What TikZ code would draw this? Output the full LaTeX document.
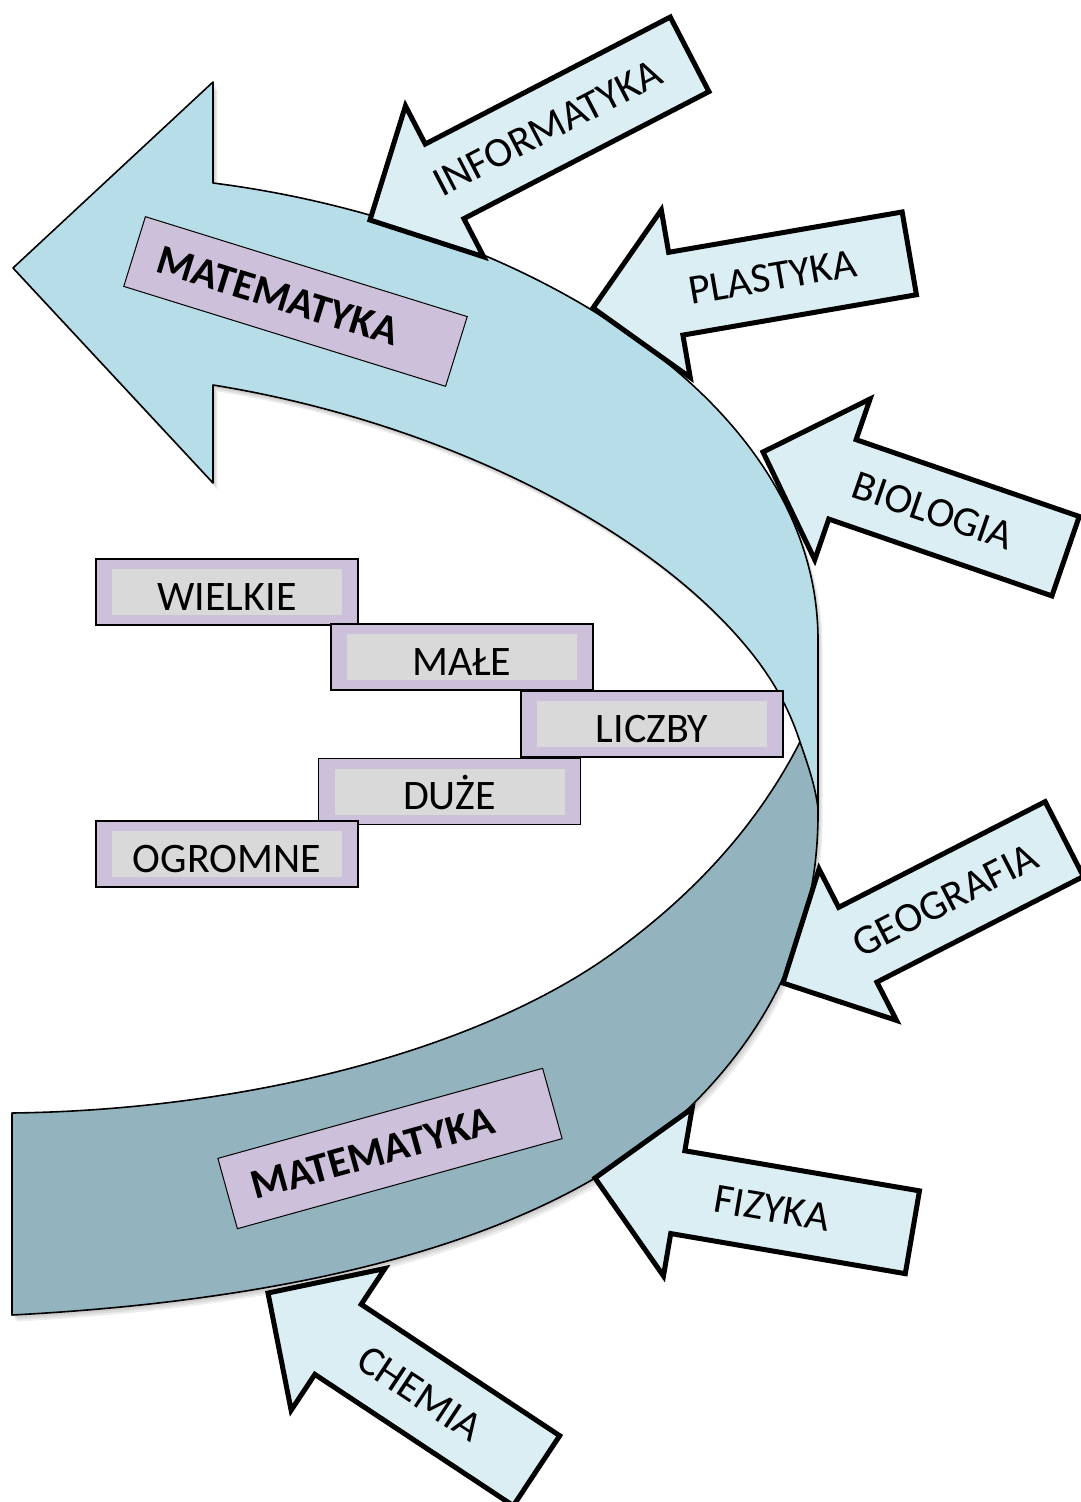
\documentclass[tikz,border=0pt]{standalone}
\usepackage{fontspec}
\setmainfont{Carlito}
\definecolor{lightfill}{HTML}{B7DDE8}
\definecolor{darkfill}{HTML}{93B3BE}
\definecolor{arrowfill}{HTML}{DAEEF3}
\definecolor{lblfill}{HTML}{CCC0DA}
\definecolor{grayfill}{HTML}{D9D9D9}
\newcommand\subjarrow[7]{%
  \begin{scope}[shift={(#2,#3)}, rotate=#4]
    \draw[sarrow] (0,0) -- (84,85) -- (84,42) -- (#5,42) -- (#5,-42) -- (84,-42) -- (84,-85) -- cycle;
    \node[atext, rotate=#4] (#1) at (#6,0) {#7};
  \end{scope}}
\newcommand\darkshape[1]{\fill[#1] (818,808) .. controls (815,785) and (808,765) .. (800,742)
  .. controls (760,820) and (700,890) .. (613,953)
  .. controls (480,1049) and (250,1110) .. (12,1113)
  -- (12,1315)
  .. controls (300,1300) and (560,1240) .. (697,1100)
  .. controls (790,1005) and (819,905) .. (818,808) -- cycle;}
\newcommand\lightshape[1]{\path[#1] (13,268) -- (213,82) -- (213,183)
  .. controls (520,222) and (818,398) .. (818,640) -- (818,808)
  .. controls (815,785) and (808,765) .. (800,742)
  .. controls (789,708) and (772,677) .. (745,645)
  .. controls (640,520) and (430,420) .. (213,385)
  -- (213,483) -- cycle;}
\begin{document}
\begin{tikzpicture}[x=1pt,y=-1pt,
  bigline/.style={draw=black, line width=1.6pt, line join=round},
  sarrow/.style={draw=black, fill=arrowfill, line width=5pt, line join=miter},
  atext/.style={font=\fontsize{42}{50}\selectfont, inner sep=0pt, text=black},
  mtext/.style={font=\bfseries\fontsize{42}{50}\selectfont, inner sep=0pt, text=black},
  shadowlayer/.style={fill=black, opacity=0.07},
  lblbox/.style={draw=black, fill=lblfill, line width=1pt, inner sep=0pt,
    minimum width=337pt, minimum height=73pt},
  wordbox/.style={draw=black, line width=1.2pt, fill=lblfill, inner sep=0pt,
    minimum width=262pt, minimum height=66pt, text height=36pt, text depth=0pt,
    font=\fontsize{42}{50}\selectfont,
    path picture={\fill[grayfill]
      ([xshift=16pt,yshift=-10pt]path picture bounding box.north west) rectangle
      ([xshift=-16pt,yshift=10pt]path picture bounding box.south east);}}
]
\useasboundingbox (0,0) rectangle (1080,1502);

% soft shadow of the big curved arrow
\foreach \dx/\dy in {1.5/2.5, 3/4.5, 4.5/6.5}{
  \darkshape{shadowlayer, shift={(\dx,\dy)}}
  \lightshape{shadowlayer, shift={(\dx,\dy)}}
}

% lower (darker) part of the big curved arrow
\darkshape{darkfill}
\draw[bigline] (800,742) .. controls (760,820) and (700,890) .. (613,953)
  .. controls (480,1049) and (250,1110) .. (12,1113)
  -- (12,1315)
  .. controls (300,1300) and (560,1240) .. (697,1100)
  .. controls (790,1005) and (819,905) .. (818,808);

% upper (light) part with the arrow head
\lightshape{bigline, fill=lightfill}

% MATEMATYKA labels
\node[lblbox, rotate=-17.25] (mbox1) at (295.5,301.5) {};
\node[mtext, rotate=-17.25] (mat1) at (278,296) {MATEMATYKA};
\node[lblbox, rotate=15.5] (mbox2) at (390,1148.5) {};
\node[mtext, rotate=15.5] (mat2) at (372.6,1153.3) {MATEMATYKA};

% subject arrows
\subjarrow{inf}{370}{220}{27.4}{360}{200}{INFORMATYKA}
\subjarrow{pla}{593}{308}{9.8}{321}{182}{PLASTYKA}
\subjarrow{bio}{763}{452}{-19}{320}{180}{BIOLOGIA}
\subjarrow{geo}{783}{983}{27.1}{316}{182}{GEOGRAFIA}
\subjarrow{fiz}{595}{1178}{-9.7}{322}{180}{FIZYKA}
\subjarrow{che}{268}{1293}{-33.5}{322}{182}{CHEMIA}

% word boxes
\node[wordbox] (wielkie) at (227,592) {WIELKIE};
\node[wordbox] (male) at (462,657) {MAŁE};
\node[wordbox] (liczby) at (652,724) {LICZBY};
\node[wordbox] (duze) at (449.5,791.5) {DUŻE};
\node[wordbox] (ogromne) at (227,854) {OGROMNE};
\end{tikzpicture}
\end{document}
